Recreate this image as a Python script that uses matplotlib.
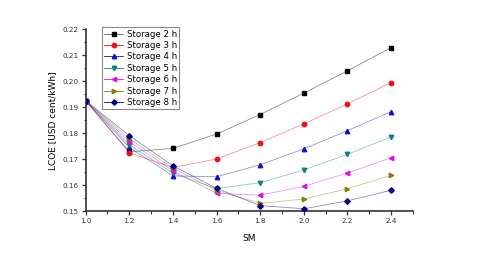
import matplotlib
matplotlib.use("Agg")
import matplotlib.pyplot as plt
from matplotlib.ticker import MultipleLocator, FormatStrFormatter
from matplotlib.lines import Line2D

sm = [1.0, 1.2, 1.4, 1.6, 1.8, 2.0, 2.2, 2.4]
labels = ["Storage 2 h", "Storage 3 h", "Storage 4 h", "Storage 5 h",
          "Storage 6 h", "Storage 7 h", "Storage 8 h"]
s2 = [0.1925, 0.1729, 0.1742, 0.1797, 0.1872, 0.1954, 0.2040, 0.2129]
s3 = [0.1925, 0.1725, 0.1668, 0.1701, 0.1764, 0.1836, 0.1913, 0.1995]
s4 = [0.1925, 0.1746, 0.1636, 0.1633, 0.1679, 0.1740, 0.1810, 0.1883]
s5 = [0.1925, 0.1756, 0.1646, 0.1587, 0.1610, 0.1659, 0.1719, 0.1786]
s6 = [0.1925, 0.1768, 0.1656, 0.1569, 0.1562, 0.1596, 0.1647, 0.1706]
s7 = [0.1925, 0.1779, 0.1666, 0.1580, 0.1531, 0.1547, 0.1587, 0.1638]
s8 = [0.1925, 0.1791, 0.1675, 0.1588, 0.1522, 0.1510, 0.1540, 0.1581]
series = [s2, s3, s4, s5, s6, s7, s8]

colors = ["#000000", "#e8131c", "#1010c8", "#108080", "#e010e0", "#808010", "#000080"]
markers = ["s", "o", "^", "v", "<", ">", "D"]

fig = plt.figure(figsize=(4.8, 2.54), dpi=100)
ax = fig.add_axes([0.1785, 0.168, 0.6815, 0.717])

for ys, c, m in zip(series, colors, markers):
    ax.plot(sm, ys, color=c, linewidth=0, marker=m,
            markersize=3.2 if m != "D" else 2.8, zorder=3)
    ax.plot(sm, ys, color=c, alpha=0.45, linewidth=0.6, zorder=2)

handles = []
for c, m in zip(colors, markers):
    h = Line2D([], [], color="#606060" if c == "#000000" else c, marker=m,
               markersize=3.2 if m != "D" else 2.8, linewidth=0.6,
               markerfacecolor=c, markeredgecolor=c)
    handles.append(h)

leg = ax.legend(handles, labels, loc="upper left", bbox_to_anchor=(0.05, 1.01),
                fontsize=6.2, frameon=True, fancybox=False, framealpha=1,
                edgecolor="#888888", labelspacing=0.28, handlelength=2.2,
                handletextpad=0.4, borderpad=0.25, borderaxespad=0.0)
leg.get_frame().set_linewidth(0.8)

ax.set_xlim(1.0, 2.5)
ax.set_ylim(0.15, 0.22)
ax.xaxis.set_major_locator(MultipleLocator(0.2))
ax.xaxis.set_minor_locator(MultipleLocator(0.1))
ax.yaxis.set_major_locator(MultipleLocator(0.01))
ax.yaxis.set_minor_locator(MultipleLocator(0.005))
ax.xaxis.set_major_formatter(FormatStrFormatter("%.1f"))
ax.yaxis.set_major_formatter(FormatStrFormatter("%.2f"))

for side in ["top", "right"]:
    ax.spines[side].set_visible(False)
for side in ["left", "bottom"]:
    ax.spines[side].set_color("#333333")
    ax.spines[side].set_linewidth(1.2)

ax.tick_params(which="major", direction="out", length=3, width=0.9,
               labelsize=5.2, colors="#333333", pad=2)
ax.tick_params(which="minor", direction="out", length=1.8, width=0.8, colors="#333333")

ax.set_xlabel("SM", fontsize=6.5, labelpad=7)
ax.set_ylabel("LCOE [USD cent/kWh]", fontsize=6.5, labelpad=4)

fig.savefig("out.png", dpi=100)
